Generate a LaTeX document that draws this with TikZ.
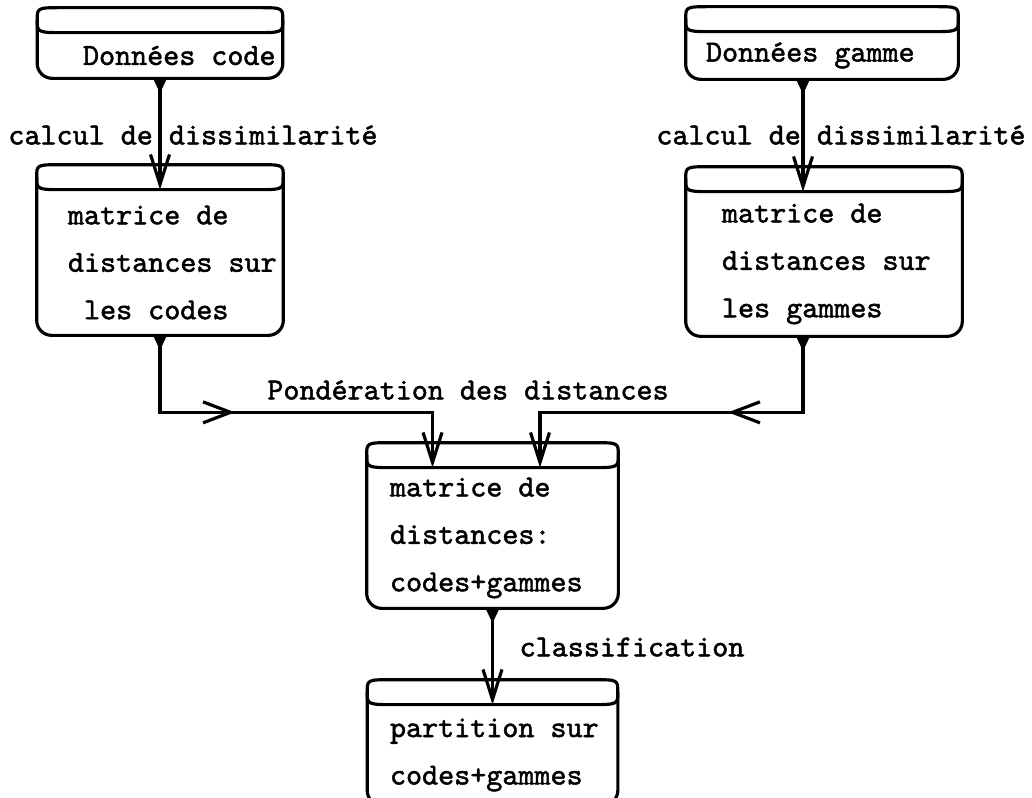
\documentclass[tikz,border=0pt]{standalone}
\usepackage{fontspec}
\setmonofont{lmmono10-regular}[Extension=.otf, AutoFakeBold=1.6]
\usetikzlibrary{arrows.meta,decorations.markings}
\newcommand{\tgap}{\leavevmode\hbox to 0.525em{}}

\begin{document}
\begin{tikzpicture}[x=0.02cm, y=-0.02cm,
    every node/.style={font=\ttfamily\bfseries\fontsize{17.4}{27}\selectfont},
    store/.style={rectangle, align=left},
    boxline/.style={line width=1.8pt, line join=round},
    flow/.style={line width=1.8pt, {Triangle[reversed,length=0.3cm,width=0.26cm]}-{Straight Barb[length=0.6cm,width=0.38cm]}},
    midtip/.style={postaction={decorate}, decoration={markings, mark=at position #1 with {\arrow{Straight Barb[length=0.55cm,width=0.42cm]}}}}]
    \useasboundingbox (0,0) rectangle (1032,798);
    % stores
    \node[store, minimum width=4.9cm, minimum height=0.9cm, text width=3.08cm] (dc) at (160,55.5) {Données\tgap code};
    \node[store, minimum width=5.44cm, minimum height=0.94cm, text width=4.64cm] (dg) at (822,55.5) {Données\tgap gamme};
    \node[store, minimum width=4.92cm, minimum height=2.9cm, text width=3.68cm] (mc) at (160,262.5) {matrice\tgap de\\distances\tgap sur\\\tgap les\tgap codes};
    \node[store, minimum width=5.52cm, minimum height=2.88cm, text width=4.08cm] (mg) at (824,264) {matrice\tgap de\\distances\tgap sur\\les\tgap gammes};
    \node[store, minimum width=5.02cm, minimum height=2.8cm, text width=4.1cm] (mcg) at (492.5,538) {matrice\tgap de\\distances:\\codes+gammes};
    \node[store, minimum width=5cm, minimum height=2cm, text width=4.1cm] (pcg) at (492.5,755) {partition\tgap sur\\codes+gammes};
    \foreach \n in {dc,dg,mc,mg,mcg,pcg} {
        \draw[boxline, rounded corners=0.3cm] ([yshift=0.25cm]\n.north west) -- (\n.south west) -- (\n.south east) -- ([yshift=0.25cm]\n.north east);
        \draw[boxline] ([yshift=0.25cm]\n.north west) .. controls ([yshift=0.5cm]\n.north west) .. ([xshift=0.5cm,yshift=0.5cm]\n.north west)
            -- ([xshift=-0.5cm,yshift=0.5cm]\n.north east) .. controls ([yshift=0.5cm]\n.north east) .. ([yshift=0.25cm]\n.north east)
            .. controls (\n.north east) .. ([xshift=-0.6cm]\n.north east) -- ([xshift=0.6cm]\n.north west)
            .. controls (\n.north west) .. cycle;
    }
    % labels
    \node (cdl) at (193,135) {calcul de dissimilarité};
    \node (cdr) at (841,135) {calcul de dissimilarité};
    \node (pond) at (468,390) {Pondération des distances};
    \node (clas) at (632,647) {classification};
    % flows
    \draw[flow] (dc) -- (mc);
    \draw[flow] ([xshift=-0.38cm]dg.south) -- ([xshift=-0.38cm]dg.south |- mg.north);
    \draw[flow, midtip=3.04cm] (mc.south) -- ++(0,77) -| ([xshift=-1.2cm]mcg.north);
    \draw[flow, midtip=3.02cm] ([xshift=-0.42cm]mg.south) -- ++(0,76) -| ([xshift=0.95cm]mcg.north);
    \draw[flow] (mcg) -- (pcg);
\end{tikzpicture}
\end{document}
